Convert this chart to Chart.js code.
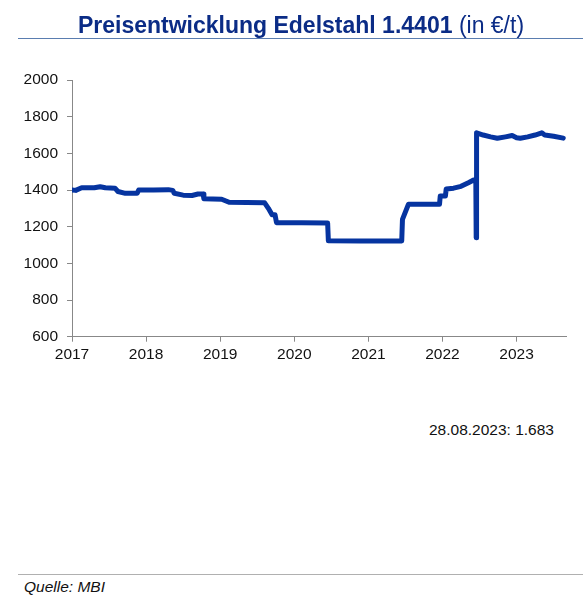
<!DOCTYPE html>
<html>
<head>
<meta charset="utf-8">
<script src="https://cdn.jsdelivr.net/npm/chart.js@4.4.0/dist/chart.umd.min.js"></script>
<style>
  html, body { margin: 0; padding: 0; background: #ffffff; }
  body { width: 588px; height: 600px; position: relative; overflow: hidden; font-family: "Liberation Sans", Arial, sans-serif; }
  #chart { position: absolute; left: 0; top: 0; }
  .title { position: absolute; left: 0; width: 602px; top: 13.5px; text-align: center; font-size: 23px; line-height: 23px; color: #0b2c86; white-space: nowrap; }
  .title b { font-weight: bold; }
  .title span { font-weight: normal; }
  .rule-top { position: absolute; left: 18px; width: 565px; top: 37.5px; height: 1.5px; background: #5a7db0; }
  .note { position: absolute; left: 429px; top: 421px; font-size: 15.5px; line-height: 18px; color: #111; white-space: nowrap; }
  .rule-bottom { position: absolute; left: 18px; width: 565px; top: 573.5px; height: 1px; background: #b0b0b0; }
  .source { position: absolute; left: 24px; top: 578px; font-size: 15.5px; line-height: 18px; font-style: italic; color: #111; white-space: nowrap; }
</style>
</head>
<body>
<canvas id="chart" width="588" height="380"></canvas>
<div class="title"><b>Preisentwicklung Edelstahl 1.4401</b> <span>(in €/t)</span></div>
<div class="rule-top"></div>
<div class="note">28.08.2023: 1.683</div>
<div class="rule-bottom"></div>
<div class="source">Quelle: MBI</div>
<script>
// Time positions as decimal years
const xYears = [
  2017.00, 2017.05, 2017.13, 2017.30, 2017.38, 2017.45, 2017.58, 2017.62, 2017.72, 2017.88,
  2017.90, 2018.10, 2018.30, 2018.36, 2018.38, 2018.50, 2018.62, 2018.70, 2018.77, 2018.78,
  2019.02, 2019.12, 2019.60, 2019.65, 2019.70, 2019.74, 2019.76, 2020.10, 2020.45, 2020.46,
  2020.90, 2021.45, 2021.46, 2021.54, 2021.96, 2021.97, 2022.04, 2022.05, 2022.15, 2022.25,
  2022.35, 2022.42, 2022.45, 2022.455, 2022.46, 2022.55, 2022.65, 2022.74, 2022.85, 2022.94,
  2023.00, 2023.05, 2023.15, 2023.25, 2023.34, 2023.38, 2023.50, 2023.63
];
// Price in EUR per tonne
const prices = [
  1400, 1398, 1412, 1412, 1418, 1412, 1410, 1392, 1382, 1382,
  1400, 1400, 1402, 1398, 1382, 1372, 1370, 1378, 1378, 1352,
  1350, 1333, 1330, 1300, 1265, 1265, 1222, 1222, 1220, 1123,
  1122, 1122, 1240, 1322, 1322, 1368, 1368, 1405, 1410, 1420,
  1440, 1455, 1445, 1140, 1712, 1700, 1690, 1682, 1690, 1697,
  1685, 1682, 1690, 1700, 1712, 1700, 1693, 1683
];
const yearTicks = [2017, 2018, 2019, 2020, 2021, 2022, 2023];
const priceTicks = [600, 800, 1000, 1200, 1400, 1600, 1800, 2000];

const points = xYears.map((x, i) => ({ x: x, y: prices[i] }));
const tickFont = { family: "'Liberation Sans', Arial, sans-serif", size: 15.5 };

new Chart(document.getElementById('chart'), {
  type: 'line',
  data: {
    datasets: [{
      data: points,
      borderColor: '#0634a0',
      borderWidth: 5,
      pointRadius: 0,
      tension: 0,
      fill: false,
      borderCapStyle: 'round',
      borderJoinStyle: 'round'
    }]
  },
  options: {
    responsive: false,
    animation: false,
    devicePixelRatio: 1,
    layout: { padding: { top: 80, right: 22, bottom: 13.3, left: 0 } },
    plugins: { legend: { display: false }, tooltip: { enabled: false }, title: { display: false } },
    scales: {
      x: {
        type: 'linear',
        min: 2017,
        max: 2023.667,
        afterBuildTicks: s => { s.ticks = yearTicks.map(v => ({ value: v })); },
        afterFit: s => { s.height = 30; },
        ticks: { includeBounds: false, color: '#111', font: tickFont, padding: 4, maxRotation: 0, callback: v => String(v) },
        grid: { drawOnChartArea: false, drawTicks: true, tickLength: 5, color: '#888', lineWidth: 1 },
        border: { display: true, color: '#888', width: 1 }
      },
      y: {
        min: 600,
        max: 2000,
        afterBuildTicks: s => { s.ticks = priceTicks.map(v => ({ value: v })); },
        afterFit: s => { s.width = 72; },
        ticks: { color: '#111', font: tickFont, padding: 9, callback: v => String(v) },
        grid: { drawOnChartArea: false, drawTicks: true, tickLength: 5, color: '#888', lineWidth: 1 },
        border: { display: true, color: '#888', width: 1 }
      }
    }
  }
});
</script>
</body>
</html>
